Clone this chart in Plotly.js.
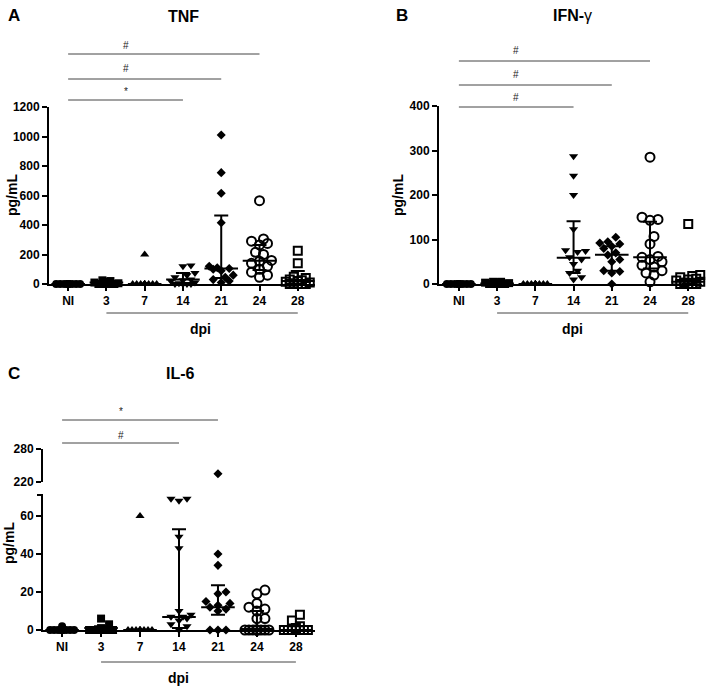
<!DOCTYPE html>
<html><head><meta charset="utf-8">
<script src="https://cdn.plot.ly/plotly-3.0.1.min.js"></script>
<style>html,body{margin:0;padding:0;background:#fff}#chart{width:709px;height:688px}</style>
</head><body><div id="chart"></div>
<script>
// ---------- DATA ----------
const categories = ['NI','3','7','14','21','24','28'];
const symbols = ['circle','square','triangle-up','triangle-down','diamond','circle-open','square-open'];

// A: TNF (pg/mL)
const tnfNI = [0,0,0,0,0,0,0,0,0,0,0,0];
const tnf3  = [25,20,15,10,5,0,0,0,0,0];
const tnf7  = [200,0,0,0,0,0,0,0,0,0,0];
const tnf14 = [125,120,75,60,45,30,25,20,10,5,0,0,0,0];
const tnf21 = [1010,755,615,415,120,110,105,100,90,60,45,30,20,10];
const tnf24 = [565,305,290,275,265,215,200,160,155,140,120,100,80,60,45];
const tnf28 = [225,140,50,40,30,25,20,15,10,5,0,0,0,0];
const tnfMedian = [0,10,0,30,105,158,20];
const tnfQ1     = [0,0,0,5,40,95,3];
const tnfQ3     = [0,20,0,75,465,265,88];
const tnfSig = [['NI','14','*'],['NI','21','#'],['NI','24','#']];

// B: IFN-gamma (pg/mL)
const ifnNI = [0,0,0,0,0,0,0,0,0,0,0,0];
const ifn3  = [5,5,4,3,2,0,0,0,0,0];
const ifn7  = [0,0,0,0,0,0,0,0,0,0];
const ifn14 = [287,243,200,123,76,74,72,60,55,45,30,25,15,10];
const ifn21 = [105,95,92,90,85,80,70,65,55,50,30,28,25,0];
const ifn24 = [285,150,145,143,107,90,62,60,55,50,42,38,30,25,20,5];
const ifn28 = [135,20,18,15,12,10,8,5,3,0,0,0,0];
const ifnMedian = [0,1,0,59,66,60,5];
const ifnQ1     = [0,0,0,25,30,35,0];
const ifnQ3     = [0,3,0,141,85,140,12];
const ifnSig = [['NI','14','#'],['NI','21','#'],['NI','24','#']];

// C: IL-6 (pg/mL)
const il6NI = [2,0,0,0,0,0,0,0,0,0,0,0];
const il63  = [6,3,1,0,0,0,0,0,0,0];
const il67  = [60,0,0,0,0,0,0,0,0,0];
const il614 = [69,68,69,49,43,10,8,7,7,6,5,3,2,0];
const il621 = [235,40,34,20,19,15,14,13,12,11,10,0,0,0];
const il624 = [21,19,14,12,11,10,6,6,0,0,0,0,0,0,0,0,0];
const il628 = [8,5,2,1,0,0,0,0,0,0,0,0];
const il6Median = [0,1,0,6.8,12,0.5,0];
const il6Q1     = [0,0,0,1,8,0,0];
const il6Q3     = [0,2,0,53,23.5,10,2];
const il6Sig = [['NI','14','#'],['NI','21','*']];

// ---------- LAYOUT HELPERS ----------
const W = 709, H = 688;
const px2x = p => p / W;
const px2y = p => 1 - p / H;
const FONT = 'Liberation Sans, Arial, sans-serif';
const markerSizes = [8, 8, 8, 8, 7, 9, 8];

const panels = [
  {letter:'A', title:'<b>TNF</b>', groups:[tnfNI,tnf3,tnf7,tnf14,tnf21,tnf24,tnf28],
   med:tnfMedian, q1:tnfQ1, q3:tnfQ3, sig:tnfSig,
   xa:'x', ya:'y', xPx:[49,315], xRange:[-0.5,6.45], yPx:[284,107], yRange:[0,1200], dtick:200,
   sigY:[100,79,54], symY:[91,69,45], letterPos:[14,15], titlePos:[183,16], ytPos:[12,195], dpiY:313, dpiLabel:[200,329]},
  {letter:'B', title:'<b>IFN-</b>γ', groups:[ifnNI,ifn3,ifn7,ifn14,ifn21,ifn24,ifn28],
   med:ifnMedian, q1:ifnQ1, q3:ifnQ3, sig:ifnSig,
   xa:'x2', ya:'y2', xPx:[439,702], xRange:[-0.52,6.36], yPx:[284,106], yRange:[0,400], dtick:100,
   sigY:[107,85,61], symY:[97,75,50], letterPos:[402,15], titlePos:[572,15], ytPos:[398,195], dpiY:313, dpiLabel:[572,329]},
  {letter:'C', title:'<b>IL-6</b>', groups:[il6NI,il63,il67,il614,il621,il624,il628],
   med:il6Median, q1:il6Q1, q3:il6Q3, sig:il6Sig,
   xa:'x3', ya:'y3', xPx:[43,315], xRange:[-0.49,6.49], yPx:[630,495], yRange:[0,71], tickvals:[0,20,40,60],
   upper:{ya:'y4', yPx:[482,449], yRange:[220,280], tickvals:[220,280]},
   sigY:[443,420], symY:[435,412], letterPos:[14,373], titlePos:[180,373], ytPos:[9,543], dpiY:662, dpiLabel:[178,678]}
];

function swarm(vals, yScale, xScale, d, maxHalf) {
  const idx = vals.map((v,i)=>i).sort((a,b)=>vals[a]-vals[b]);
  const placed = []; const off = new Array(vals.length).fill(0);
  const step = d/2; const cands = [0];
  for (let k=1; k*step<=maxHalf; k++) cands.push(k*step, -k*step);
  for (const i of idx) {
    const yp = vals[i]*yScale;
    let best = 0, bestD = -1;
    for (const c of cands) {
      let m = Infinity;
      for (const p of placed) { const dd = Math.hypot(c-p.x, yp-p.y); if (dd<m) m = dd; }
      if (m >= d*0.95) { best = c; bestD = m; break; }
      if (m > bestD) { bestD = m; best = c; }
    }
    placed.push({x:best, y:yp}); off[i] = best/xScale;
  }
  return off;
}

const axisStyle = () => ({showline:true, linewidth:2, linecolor:'black', ticks:'outside', ticklen:5, tickwidth:2,
  tickcolor:'black', showgrid:false, zeroline:false, fixedrange:true,
  tickfont:{family:FONT, size:12, weight:'bold', color:'black'}});

const traces = [], shapes = [], annotations = [];
const layout = {width:W, height:H, margin:{l:0,r:0,t:0,b:0}, showlegend:false,
  paper_bgcolor:'white', plot_bgcolor:'white', shapes, annotations};

panels.forEach((P) => {
  const xn = P.xa === 'x' ? '' : P.xa.slice(1);
  const yn = P.ya === 'y' ? '' : P.ya.slice(1);
  const xw = P.xPx[1]-P.xPx[0];
  const xScale = xw / (P.xRange[1]-P.xRange[0]);
  const yScale = (P.yPx[0]-P.yPx[1]) / (P.yRange[1]-P.yRange[0]);
  const dataX = v => (P.xPx[0] + (v - P.xRange[0]) * xScale) / W;

  layout['xaxis'+xn] = Object.assign(axisStyle(), {domain:[px2x(P.xPx[0]), px2x(P.xPx[1])], range:P.xRange,
    anchor:P.ya, tickvals:categories.map((c,i)=>i), ticktext:categories});
  const ya = Object.assign(axisStyle(), {domain:[px2y(P.yPx[0]), px2y(P.yPx[1])], range:P.yRange, anchor:P.xa});
  if (P.tickvals) { ya.tickvals = P.tickvals; } else { ya.dtick = P.dtick; }
  layout['yaxis'+yn] = ya;
  if (P.upper) {
    const un = P.upper.ya.slice(1);
    layout['yaxis'+un] = Object.assign(axisStyle(), {domain:[px2y(P.upper.yPx[0]), px2y(P.upper.yPx[1])],
      range:P.upper.yRange, tickvals:P.upper.tickvals, anchor:P.xa});
    shapes.push({type:'line', xref:'paper', yref:'paper', x0:px2x(P.xPx[0]-6), x1:px2x(P.xPx[0]),
      y0:px2y(P.yPx[1]), y1:px2y(P.yPx[1]), line:{color:'black', width:2}});
  }

  P.groups.forEach((vals, gi) => {
    const off = swarm(vals, yScale, xScale, 8, 12);
    const open = symbols[gi].indexOf('open') >= 0;
    const mk = {symbol:symbols[gi], size:markerSizes[gi], color:'black', line:{width: open ? 2 : 0, color:'black'}};
    const lowX=[], lowY=[], upX=[], upY=[];
    vals.forEach((v,k) => {
      if (P.upper && v > P.yRange[1]) { upX.push(gi+off[k]); upY.push(v); }
      else { lowX.push(gi+off[k]); lowY.push(v); }
    });
    traces.push({type:'scatter', mode:'markers', x:lowX, y:lowY, xaxis:P.xa, yaxis:P.ya, marker:mk, cliponaxis:false, hoverinfo:'y'});
    if (upX.length) traces.push({type:'scatter', mode:'markers', x:upX, y:upY, xaxis:P.xa, yaxis:P.upper.ya, marker:mk, cliponaxis:false, hoverinfo:'y'});
  });

  traces.push({type:'scatter', mode:'markers', x:categories.map((c,i)=>i), y:P.med, xaxis:P.xa, yaxis:P.ya,
    cliponaxis:false, hoverinfo:'y',
    marker:{symbol:'line-ew', size:24, color:'black', line:{width:2, color:'black'}},
    error_y:{type:'data', symmetric:false, array:P.q3.map((q,i)=>q-P.med[i]), arrayminus:P.med.map((m,i)=>m-P.q1[i]),
      color:'black', thickness:2, width:7}});

  P.sig.forEach((s, li) => {
    const a = categories.indexOf(s[0]), b = categories.indexOf(s[1]);
    shapes.push({type:'line', xref:'paper', yref:'paper', x0:dataX(a), x1:dataX(b),
      y0:px2y(P.sigY[li]), y1:px2y(P.sigY[li]), line:{color:'#444', width:1}});
    annotations.push({xref:'paper', yref:'paper', x:dataX(1.5), y:px2y(P.symY[li]), text:s[2], showarrow:false,
      font:{family:FONT, size:10, color:'#222'}, xanchor:'center', yanchor:'middle'});
  });

  shapes.push({type:'line', xref:'paper', yref:'paper', x0:dataX(1), x1:dataX(6),
    y0:px2y(P.dpiY), y1:px2y(P.dpiY), line:{color:'#444', width:1}});
  annotations.push({xref:'paper', yref:'paper', x:px2x(P.dpiLabel[0]), y:px2y(P.dpiLabel[1]), text:'<b>dpi</b>',
    showarrow:false, font:{family:FONT, size:14, color:'black'}, xanchor:'center', yanchor:'middle'});
  annotations.push({xref:'paper', yref:'paper', x:px2x(P.letterPos[0]), y:px2y(P.letterPos[1]), text:'<b>'+P.letter+'</b>',
    showarrow:false, font:{family:FONT, size:17, color:'black'}, xanchor:'center', yanchor:'middle'});
  annotations.push({xref:'paper', yref:'paper', x:px2x(P.titlePos[0]), y:px2y(P.titlePos[1]), text:P.title,
    showarrow:false, font:{family:FONT, size:16, color:'black'}, xanchor:'center', yanchor:'middle'});
  annotations.push({xref:'paper', yref:'paper', x:px2x(P.ytPos[0]), y:px2y(P.ytPos[1]), text:'<b>pg/mL</b>', textangle:-90,
    showarrow:false, font:{family:FONT, size:14, color:'black'}, xanchor:'center', yanchor:'middle'});
});

Plotly.newPlot('chart', traces, layout, {staticPlot:true, displayModeBar:false});
</script></body></html>
